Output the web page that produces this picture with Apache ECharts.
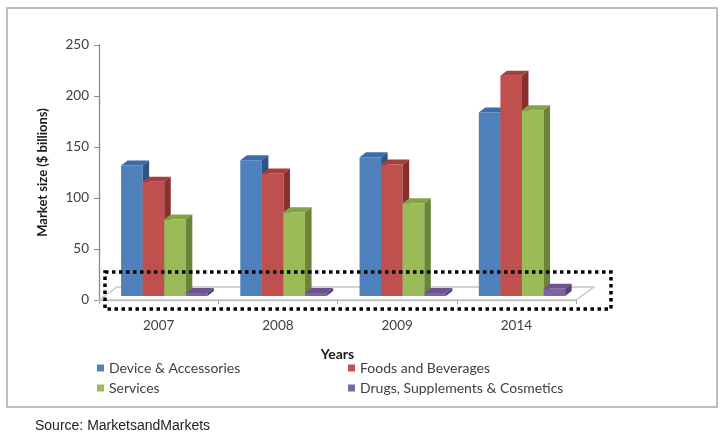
<!DOCTYPE html>
<html>
<head>
<meta charset="utf-8">
<script src="https://cdn.jsdelivr.net/npm/echarts@6/dist/echarts.min.js"></script>
<style>
html,body{margin:0;padding:0;background:#fff;}
#chart{width:723px;height:442px;}
</style>
</head>
<body>
<div id="chart"></div>
<script>
const categories = ['2007', '2008', '2009', '2014'];
const device   = [128, 133, 136, 180];
const foods    = [112, 120, 129, 216];
const services = [75, 82, 91, 182];
const drugs    = [3, 3, 3, 7];

const seriesNames = ['Device & Accessories', 'Foods and Beverages', 'Services', 'Drugs, Supplements & Cosmetics'];
const seriesValues = [device, foods, services, drugs];
const palette = [
  {front: '#4F81BD', top: '#3C6CAA', side: '#2D5486'},
  {front: '#C0504D', top: '#A53F3C', side: '#88302D'},
  {front: '#9BBB59', top: '#84A347', side: '#6A8537'},
  {front: '#8064A2', top: '#6C5290', side: '#554076'}
];

const FONT = 'Lato';

function barRender(k, colors) {
  return function (params, api) {
    const idx = api.value(0);
    const v = api.value(1);
    const base = api.coord([idx, 0]);
    const topPt = api.coord([idx, v]);
    const band = api.size([1, 0])[0];
    const bw = band * 0.181;
    const x0 = base[0] - band * 0.315 + k * bw;
    const lift = 4;
    const y0 = base[1] - lift;
    const y1 = topPt[1] - lift;
    const dx = 6.5, dy = 5;
    return {
      type: 'group',
      children: [
        {type: 'rect', shape: {x: x0, y: y1, width: bw, height: y0 - y1}, style: {fill: colors.front}},
        {type: 'polygon', shape: {points: [[x0, y1], [x0 + bw, y1], [x0 + bw + dx, y1 - dy], [x0 + dx, y1 - dy]]}, style: {fill: colors.top}},
        {type: 'polygon', shape: {points: [[x0 + bw, y1], [x0 + bw + dx, y1 - dy], [x0 + bw + dx, y0 - dy], [x0 + bw, y0]]}, style: {fill: colors.side}}
      ]
    };
  };
}

function floorRender(params, api) {
  const cs = params.coordSys;
  const y0 = api.coord([0, 0])[1];
  const xl = cs.x, xr = cs.x + cs.width;
  const dx = 18, dy = 13;
  return {
    type: 'polygon',
    shape: {points: [[xl, y0], [xr, y0], [xr + dx, y0 - dy], [xl + dx, y0 - dy]]},
    style: {fill: '#ffffff', stroke: '#c4c4c4', lineWidth: 1.3}
  };
}

const series = [{
  type: 'custom',
  name: 'floor',
  renderItem: floorRender,
  data: [[0, 0]],
  z: 1,
  silent: true
}];
seriesValues.forEach(function (vals, k) {
  series.push({
    type: 'custom',
    name: seriesNames[k],
    renderItem: barRender(k, palette[k]),
    itemStyle: {color: palette[k].front},
    data: vals.map(function (v, i) { return [i, v]; }),
    z: 2
  });
});

const legendPos = [
  {left: 97, top: 361},
  {left: 348, top: 361},
  {left: 97, top: 381},
  {left: 348, top: 381}
];
const legends = seriesNames.map(function (n, k) {
  return {
    data: [n],
    left: legendPos[k].left,
    top: legendPos[k].top,
    padding: 0,
    icon: 'rect',
    itemWidth: 7,
    itemHeight: 7,
    textStyle: {fontFamily: FONT, fontSize: 14, color: '#404040'},
    selectedMode: false
  };
});

const chart = echarts.init(document.getElementById('chart'), null, {renderer: 'canvas'});
chart.setOption({
  animation: false,
  backgroundColor: '#ffffff',
  grid: {left: 99, right: 147, top: 45, bottom: 142, containLabel: false},
  xAxis: {
    type: 'category',
    data: categories,
    name: 'Years',
    nameLocation: 'middle',
    nameGap: 47,
    nameTextStyle: {fontFamily: FONT, fontSize: 14, fontWeight: 'bold', color: '#1a1a1a'},
    axisLine: {show: true, lineStyle: {color: '#bdbdbd', width: 1.3}},
    axisTick: {show: true, length: 4, lineStyle: {color: '#a0a0a0'}},
    axisLabel: {fontFamily: FONT, fontSize: 13.5, color: '#404040', margin: 19}
  },
  yAxis: {
    type: 'value',
    min: 0,
    max: 250,
    interval: 50,
    name: 'Market size ($ billions)',
    nameLocation: 'middle',
    nameRotate: 90,
    nameGap: 50,
    nameTextStyle: {fontFamily: FONT, fontSize: 13, fontWeight: 'bold', color: '#1a1a1a'},
    axisLine: {show: true, lineStyle: {color: '#8a8a8a', width: 1.3}},
    axisTick: {show: true, length: 5, lineStyle: {color: '#8a8a8a'}},
    axisLabel: {fontFamily: FONT, fontSize: 13.5, color: '#404040', margin: 10},
    splitLine: {show: false}
  },
  legend: legends,
  series: series,
  graphic: [
    {type: 'rect', z: 0, shape: {x: 7, y: 8, width: 710, height: 399}, style: {fill: 'none', stroke: '#a8a8a8', lineWidth: 1.5}, silent: true},
    {type: 'rect', z: 100, shape: {x: 105, y: 272, width: 506, height: 37}, style: {fill: 'none', stroke: '#000000', lineWidth: 3.5, lineDash: [3.5, 3.5]}, silent: true},
    {type: 'text', left: 35, top: 419, style: {text: 'Source: MarketsandMarkets', font: '14px "Liberation Sans"', fill: '#222222'}, silent: true}
  ]
});
</script>
</body>
</html>
